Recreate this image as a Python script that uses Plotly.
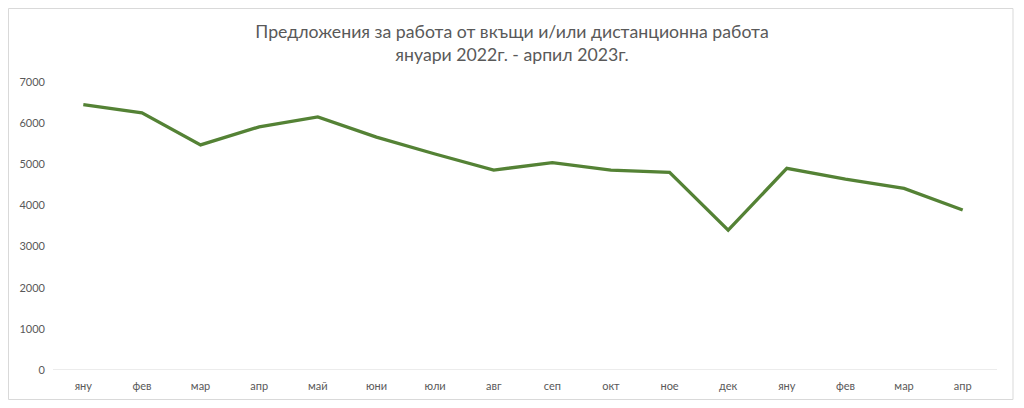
import plotly.graph_objects as go

months = ["яну", "фев", "мар", "апр", "май", "юни", "юли", "авг",
          "сеп", "окт", "ное", "дек", "яну", "фев", "мар", "апр"]
offers = [6450, 6250, 5470, 5910, 6150, 5660, 5250, 4860,
          5040, 4860, 4805, 3400, 4900, 4640, 4415, 3890]
y_ticks = [0, 1000, 2000, 3000, 4000, 5000, 6000, 7000]

# the page puts the figure 8px in from the top-left corner
OFF = 8
W, H = 1024 - 2 * OFF, 408 - 2 * OFF
ml, mt = 54 - OFF, 82 - OFF
mr, mb = W - (992 - OFF), H - (370 - OFF)
pw, ph = W - ml - mr, H - mt - mb

def px(x):
    return (x - OFF - ml) / pw

def py(y):
    return (H - mb - (y - OFF)) / ph

fig = go.Figure()
fig.add_trace(go.Scatter(
    x=list(range(len(months))), y=offers, mode="lines",
    line=dict(color="#548235", width=3.3), hoverinfo="y",
))

fig.update_layout(
    width=W, height=H,
    margin=dict(l=ml, r=mr, t=mt, b=mb),
    paper_bgcolor="white", plot_bgcolor="white",
    showlegend=False,
    font=dict(family="Lato, Open Sans, sans-serif", color="#595959", size=11),
    title=dict(
        text="Предложения за работа от вкъщи и/или дистанционна работа<br>януари 2022г. - арпил 2023г.",
        x=0.5, xanchor="center", y=1 - 30 / H, yanchor="top",
        font=dict(size=17.7, color="#595959"),
    ),
    xaxis=dict(
        tickmode="array", tickvals=list(range(len(months))), ticktext=months,
        range=[-0.5, len(months) - 0.5],
        showgrid=False, zeroline=False, showline=False, ticks="",
        ticklabelstandoff=8, automargin=False,
    ),
    yaxis=dict(
        range=[0, 7000], tickvals=y_ticks,
        showgrid=False, zeroline=False, showline=False, ticks="",
        ticklabelstandoff=8, automargin=False,
    ),
    shapes=[
        dict(type="line", xref="paper", yref="y", x0=px(53), x1=px(997), y0=0, y1=0,
             line=dict(color="#d9d9d9", width=1)),
        dict(type="rect", xref="paper", yref="paper",
             x0=px(8.5), x1=px(1013), y0=py(8.5), y1=py(399.5),
             line=dict(color="#d9d9d9", width=1), layer="below"),
    ],
)

fig.write_html("out.html")
